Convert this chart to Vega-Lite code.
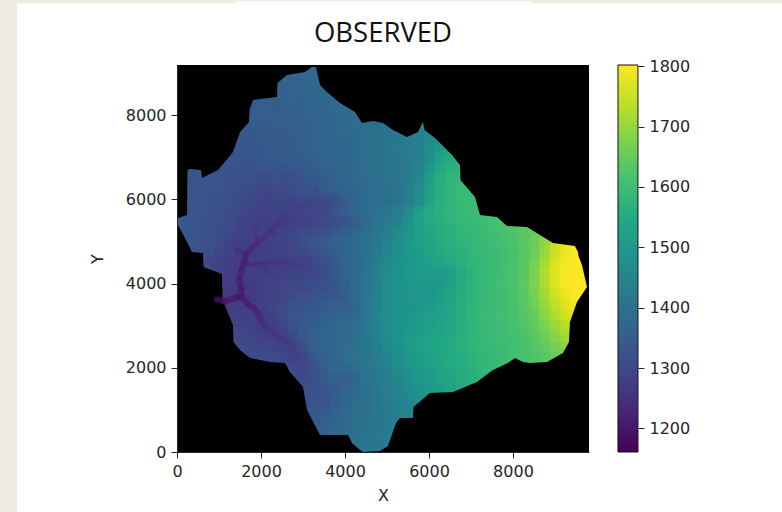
{"$schema":"https://vega.github.io/schema/vega-lite/v6.json","autosize":"none","width":412,"height":387,"padding":{"left":177,"top":65,"right":193,"bottom":60},"background":"#eeebe0","title":{"text":"OBSERVED","font":"Open Sans","fontSize":27.5,"fontWeight":"normal","color":"#111","anchor":"middle","offset":-46},"config":{"view":{"stroke":null},"axis":{"grid":false,"labelFont":"DejaVu Sans","titleFont":"DejaVu Sans","labelFontSize":16,"titleFontSize":16,"titleFontWeight":"normal","labelColor":"#262626","titleColor":"#262626","tickColor":"#262626","domainColor":"#262626","tickSize":6,"labelPadding":5,"format":"d","labelFlush":false}},"resolve":{"scale":{"y":"independent"},"axis":{"x":"independent","y":"independent"}},"datasets":{"cells":[
{"x":3125,"y":9125,"v":1375},
{"x":2625,"y":8875,"v":1365},{"x":2875,"y":8875,"v":1368},{"x":3125,"y":8875,"v":1372},{"x":3375,"y":8875,"v":1378},
{"x":2375,"y":8625,"v":1360},{"x":2625,"y":8625,"v":1362},{"x":2875,"y":8625,"v":1365},{"x":3125,"y":8625,"v":1370},{"x":3375,"y":8625,"v":1375},{"x":3625,"y":8625,"v":1382},
{"x":1875,"y":8375,"v":1345},{"x":2125,"y":8375,"v":1350},{"x":2375,"y":8375,"v":1355},{"x":2625,"y":8375,"v":1358},{"x":2875,"y":8375,"v":1362},{"x":3125,"y":8375,"v":1368},{"x":3375,"y":8375,"v":1372},{"x":3625,"y":8375,"v":1380},{"x":3875,"y":8375,"v":1388},
{"x":1875,"y":8125,"v":1345},{"x":2125,"y":8125,"v":1348},{"x":2375,"y":8125,"v":1352},{"x":2625,"y":8125,"v":1355},{"x":2875,"y":8125,"v":1360},{"x":3125,"y":8125,"v":1365},{"x":3375,"y":8125,"v":1370},{"x":3625,"y":8125,"v":1378},{"x":3875,"y":8125,"v":1385},{"x":4125,"y":8125,"v":1392},
{"x":1625,"y":7875,"v":1340},{"x":1875,"y":7875,"v":1345},{"x":2125,"y":7875,"v":1348},{"x":2375,"y":7875,"v":1350},{"x":2625,"y":7875,"v":1353},{"x":2875,"y":7875,"v":1357},{"x":3125,"y":7875,"v":1362},{"x":3375,"y":7875,"v":1368},{"x":3625,"y":7875,"v":1375},{"x":3875,"y":7875,"v":1382},{"x":4125,"y":7875,"v":1390},{"x":4375,"y":7875,"v":1396},{"x":4625,"y":7875,"v":1402},
{"x":1625,"y":7625,"v":1338},{"x":1875,"y":7625,"v":1342},{"x":2125,"y":7625,"v":1345},{"x":2375,"y":7625,"v":1348},{"x":2625,"y":7625,"v":1350},{"x":2875,"y":7625,"v":1355},{"x":3125,"y":7625,"v":1358},{"x":3375,"y":7625,"v":1365},{"x":3625,"y":7625,"v":1372},{"x":3875,"y":7625,"v":1380},{"x":4125,"y":7625,"v":1388},{"x":4375,"y":7625,"v":1394},{"x":4625,"y":7625,"v":1400},{"x":4875,"y":7625,"v":1408},{"x":5125,"y":7625,"v":1415},{"x":5625,"y":7625,"v":1440},{"x":5875,"y":7625,"v":1450},
{"x":1625,"y":7375,"v":1335},{"x":1875,"y":7375,"v":1338},{"x":2125,"y":7375,"v":1342},{"x":2375,"y":7375,"v":1345},{"x":2625,"y":7375,"v":1348},{"x":2875,"y":7375,"v":1352},{"x":3125,"y":7375,"v":1356},{"x":3375,"y":7375,"v":1362},{"x":3625,"y":7375,"v":1370},{"x":3875,"y":7375,"v":1376},{"x":4125,"y":7375,"v":1384},{"x":4375,"y":7375,"v":1392},{"x":4625,"y":7375,"v":1398},{"x":4875,"y":7375,"v":1408},{"x":5125,"y":7375,"v":1415},{"x":5375,"y":7375,"v":1425},{"x":5625,"y":7375,"v":1435},{"x":5875,"y":7375,"v":1445},{"x":6125,"y":7375,"v":1470},
{"x":1375,"y":7125,"v":1330},{"x":1625,"y":7125,"v":1333},{"x":1875,"y":7125,"v":1336},{"x":2125,"y":7125,"v":1340},{"x":2375,"y":7125,"v":1343},{"x":2625,"y":7125,"v":1346},{"x":2875,"y":7125,"v":1350},{"x":3125,"y":7125,"v":1354},{"x":3375,"y":7125,"v":1360},{"x":3625,"y":7125,"v":1368},{"x":3875,"y":7125,"v":1375},{"x":4125,"y":7125,"v":1382},{"x":4375,"y":7125,"v":1390},{"x":4625,"y":7125,"v":1398},{"x":4875,"y":7125,"v":1405},{"x":5125,"y":7125,"v":1415},{"x":5375,"y":7125,"v":1425},{"x":5625,"y":7125,"v":1435},{"x":5875,"y":7125,"v":1450},{"x":6125,"y":7125,"v":1490},{"x":6375,"y":7125,"v":1525},
{"x":1125,"y":6875,"v":1325},{"x":1375,"y":6875,"v":1328},{"x":1625,"y":6875,"v":1330},{"x":1875,"y":6875,"v":1333},{"x":2125,"y":6875,"v":1336},{"x":2375,"y":6875,"v":1338},{"x":2625,"y":6875,"v":1342},{"x":2875,"y":6875,"v":1346},{"x":3125,"y":6875,"v":1350},{"x":3375,"y":6875,"v":1356},{"x":3625,"y":6875,"v":1364},{"x":3875,"y":6875,"v":1372},{"x":4125,"y":6875,"v":1380},{"x":4375,"y":6875,"v":1388},{"x":4625,"y":6875,"v":1396},{"x":4875,"y":6875,"v":1404},{"x":5125,"y":6875,"v":1412},{"x":5375,"y":6875,"v":1420},{"x":5625,"y":6875,"v":1432},{"x":5875,"y":6875,"v":1445},{"x":6125,"y":6875,"v":1515},{"x":6375,"y":6875,"v":1550},{"x":6625,"y":6875,"v":1565},
{"x":375,"y":6625,"v":1335},{"x":625,"y":6625,"v":1332},{"x":875,"y":6625,"v":1328},{"x":1125,"y":6625,"v":1325},{"x":1375,"y":6625,"v":1322},{"x":1625,"y":6625,"v":1322},{"x":1875,"y":6625,"v":1318},{"x":2125,"y":6625,"v":1322},{"x":2375,"y":6625,"v":1325},{"x":2625,"y":6625,"v":1322},{"x":2875,"y":6625,"v":1335},{"x":3125,"y":6625,"v":1342},{"x":3375,"y":6625,"v":1350},{"x":3625,"y":6625,"v":1360},{"x":3875,"y":6625,"v":1368},{"x":4125,"y":6625,"v":1378},{"x":4375,"y":6625,"v":1386},{"x":4625,"y":6625,"v":1394},{"x":4875,"y":6625,"v":1402},{"x":5125,"y":6625,"v":1412},{"x":5375,"y":6625,"v":1420},{"x":5625,"y":6625,"v":1435},{"x":5875,"y":6625,"v":1465},{"x":6125,"y":6625,"v":1530},{"x":6375,"y":6625,"v":1565},{"x":6625,"y":6625,"v":1580},
{"x":375,"y":6375,"v":1335},{"x":625,"y":6375,"v":1332},{"x":875,"y":6375,"v":1328},{"x":1125,"y":6375,"v":1322},{"x":1375,"y":6375,"v":1318},{"x":1625,"y":6375,"v":1315},{"x":1875,"y":6375,"v":1310},{"x":2125,"y":6375,"v":1305},{"x":2375,"y":6375,"v":1315},{"x":2625,"y":6375,"v":1310},{"x":2875,"y":6375,"v":1325},{"x":3125,"y":6375,"v":1332},{"x":3375,"y":6375,"v":1340},{"x":3625,"y":6375,"v":1350},{"x":3875,"y":6375,"v":1360},{"x":4125,"y":6375,"v":1372},{"x":4375,"y":6375,"v":1382},{"x":4625,"y":6375,"v":1392},{"x":4875,"y":6375,"v":1400},{"x":5125,"y":6375,"v":1410},{"x":5375,"y":6375,"v":1420},{"x":5625,"y":6375,"v":1438},{"x":5875,"y":6375,"v":1480},{"x":6125,"y":6375,"v":1545},{"x":6375,"y":6375,"v":1575},{"x":6625,"y":6375,"v":1590},
{"x":375,"y":6125,"v":1332},{"x":625,"y":6125,"v":1330},{"x":875,"y":6125,"v":1325},{"x":1125,"y":6125,"v":1320},{"x":1375,"y":6125,"v":1315},{"x":1625,"y":6125,"v":1310},{"x":1875,"y":6125,"v":1302},{"x":2125,"y":6125,"v":1290},{"x":2375,"y":6125,"v":1305},{"x":2625,"y":6125,"v":1305},{"x":2875,"y":6125,"v":1318},{"x":3125,"y":6125,"v":1320},{"x":3375,"y":6125,"v":1335},{"x":3625,"y":6125,"v":1345},{"x":3875,"y":6125,"v":1355},{"x":4125,"y":6125,"v":1365},{"x":4375,"y":6125,"v":1378},{"x":4625,"y":6125,"v":1390},{"x":4875,"y":6125,"v":1398},{"x":5125,"y":6125,"v":1408},{"x":5375,"y":6125,"v":1420},{"x":5625,"y":6125,"v":1440},{"x":5875,"y":6125,"v":1490},{"x":6125,"y":6125,"v":1550},{"x":6375,"y":6125,"v":1575},{"x":6625,"y":6125,"v":1590},{"x":6875,"y":6125,"v":1600},
{"x":375,"y":5875,"v":1330},{"x":625,"y":5875,"v":1328},{"x":875,"y":5875,"v":1322},{"x":1125,"y":5875,"v":1318},{"x":1375,"y":5875,"v":1312},{"x":1625,"y":5875,"v":1305},{"x":1875,"y":5875,"v":1295},{"x":2125,"y":5875,"v":1287},{"x":2375,"y":5875,"v":1295},{"x":2625,"y":5875,"v":1290},{"x":2875,"y":5875,"v":1288},{"x":3125,"y":5875,"v":1295},{"x":3375,"y":5875,"v":1292},{"x":3625,"y":5875,"v":1295},{"x":3875,"y":5875,"v":1315},{"x":4125,"y":5875,"v":1355},{"x":4375,"y":5875,"v":1375},{"x":4625,"y":5875,"v":1388},{"x":4875,"y":5875,"v":1398},{"x":5125,"y":5875,"v":1408},{"x":5375,"y":5875,"v":1420},{"x":5625,"y":5875,"v":1445},{"x":5875,"y":5875,"v":1495},{"x":6125,"y":5875,"v":1550},{"x":6375,"y":5875,"v":1572},{"x":6625,"y":5875,"v":1585},{"x":6875,"y":5875,"v":1595},{"x":7125,"y":5875,"v":1600},
{"x":125,"y":5625,"v":1338},{"x":375,"y":5625,"v":1330},{"x":625,"y":5625,"v":1326},{"x":875,"y":5625,"v":1322},{"x":1125,"y":5625,"v":1316},{"x":1375,"y":5625,"v":1308},{"x":1625,"y":5625,"v":1295},{"x":1875,"y":5625,"v":1287},{"x":2125,"y":5625,"v":1285},{"x":2375,"y":5625,"v":1283},{"x":2625,"y":5625,"v":1283},{"x":2875,"y":5625,"v":1290},{"x":3125,"y":5625,"v":1300},{"x":3375,"y":5625,"v":1305},{"x":3625,"y":5625,"v":1315},{"x":3875,"y":5625,"v":1345},{"x":4125,"y":5625,"v":1365},{"x":4375,"y":5625,"v":1382},{"x":4625,"y":5625,"v":1395},{"x":4875,"y":5625,"v":1410},{"x":5125,"y":5625,"v":1425},{"x":5375,"y":5625,"v":1450},{"x":5625,"y":5625,"v":1500},{"x":5875,"y":5625,"v":1545},{"x":6125,"y":5625,"v":1565},{"x":6375,"y":5625,"v":1578},{"x":6625,"y":5625,"v":1590},{"x":6875,"y":5625,"v":1598},{"x":7125,"y":5625,"v":1600},{"x":7375,"y":5625,"v":1602},
{"x":125,"y":5375,"v":1338},{"x":375,"y":5375,"v":1330},{"x":625,"y":5375,"v":1325},{"x":875,"y":5375,"v":1320},{"x":1125,"y":5375,"v":1312},{"x":1375,"y":5375,"v":1303},{"x":1625,"y":5375,"v":1292},{"x":1875,"y":5375,"v":1285},{"x":2125,"y":5375,"v":1281},{"x":2375,"y":5375,"v":1281},{"x":2625,"y":5375,"v":1285},{"x":2875,"y":5375,"v":1287},{"x":3125,"y":5375,"v":1288},{"x":3375,"y":5375,"v":1295},{"x":3625,"y":5375,"v":1300},{"x":3875,"y":5375,"v":1310},{"x":4125,"y":5375,"v":1325},{"x":4375,"y":5375,"v":1365},{"x":4625,"y":5375,"v":1392},{"x":4875,"y":5375,"v":1415},{"x":5125,"y":5375,"v":1435},{"x":5375,"y":5375,"v":1460},{"x":5625,"y":5375,"v":1500},{"x":5875,"y":5375,"v":1535},{"x":6125,"y":5375,"v":1555},{"x":6375,"y":5375,"v":1568},{"x":6625,"y":5375,"v":1580},{"x":6875,"y":5375,"v":1590},{"x":7125,"y":5375,"v":1598},{"x":7375,"y":5375,"v":1605},{"x":7625,"y":5375,"v":1615},{"x":7875,"y":5375,"v":1625},
{"x":125,"y":5125,"v":1338},{"x":375,"y":5125,"v":1330},{"x":625,"y":5125,"v":1322},{"x":875,"y":5125,"v":1315},{"x":1125,"y":5125,"v":1305},{"x":1375,"y":5125,"v":1295},{"x":1625,"y":5125,"v":1287},{"x":1875,"y":5125,"v":1282},{"x":2125,"y":5125,"v":1284},{"x":2375,"y":5125,"v":1286},{"x":2625,"y":5125,"v":1290},{"x":2875,"y":5125,"v":1300},{"x":3125,"y":5125,"v":1312},{"x":3375,"y":5125,"v":1325},{"x":3625,"y":5125,"v":1340},{"x":3875,"y":5125,"v":1355},{"x":4125,"y":5125,"v":1372},{"x":4375,"y":5125,"v":1388},{"x":4625,"y":5125,"v":1402},{"x":4875,"y":5125,"v":1425},{"x":5125,"y":5125,"v":1450},{"x":5375,"y":5125,"v":1478},{"x":5625,"y":5125,"v":1505},{"x":5875,"y":5125,"v":1530},{"x":6125,"y":5125,"v":1550},{"x":6375,"y":5125,"v":1562},{"x":6625,"y":5125,"v":1575},{"x":6875,"y":5125,"v":1585},{"x":7125,"y":5125,"v":1592},{"x":7375,"y":5125,"v":1600},{"x":7625,"y":5125,"v":1608},{"x":7875,"y":5125,"v":1618},{"x":8125,"y":5125,"v":1628},{"x":8375,"y":5125,"v":1642},{"x":8625,"y":5125,"v":1665},
{"x":375,"y":4875,"v":1330},{"x":625,"y":4875,"v":1322},{"x":875,"y":4875,"v":1315},{"x":1125,"y":4875,"v":1300},{"x":1375,"y":4875,"v":1287},{"x":1625,"y":4875,"v":1279},{"x":1875,"y":4875,"v":1276},{"x":2125,"y":4875,"v":1282},{"x":2375,"y":4875,"v":1287},{"x":2625,"y":4875,"v":1295},{"x":2875,"y":4875,"v":1310},{"x":3125,"y":4875,"v":1322},{"x":3375,"y":4875,"v":1338},{"x":3625,"y":4875,"v":1350},{"x":3875,"y":4875,"v":1362},{"x":4125,"y":4875,"v":1378},{"x":4375,"y":4875,"v":1392},{"x":4625,"y":4875,"v":1408},{"x":4875,"y":4875,"v":1435},{"x":5125,"y":4875,"v":1462},{"x":5375,"y":4875,"v":1490},{"x":5625,"y":4875,"v":1510},{"x":5875,"y":4875,"v":1528},{"x":6125,"y":4875,"v":1545},{"x":6375,"y":4875,"v":1558},{"x":6625,"y":4875,"v":1570},{"x":6875,"y":4875,"v":1582},{"x":7125,"y":4875,"v":1590},{"x":7375,"y":4875,"v":1596},{"x":7625,"y":4875,"v":1604},{"x":7875,"y":4875,"v":1612},{"x":8125,"y":4875,"v":1625},{"x":8375,"y":4875,"v":1642},{"x":8625,"y":4875,"v":1672},{"x":8875,"y":4875,"v":1720},{"x":9125,"y":4875,"v":1770},{"x":9375,"y":4875,"v":1795},
{"x":625,"y":4625,"v":1315},{"x":875,"y":4625,"v":1305},{"x":1125,"y":4625,"v":1287},{"x":1375,"y":4625,"v":1278},{"x":1625,"y":4625,"v":1271},{"x":1875,"y":4625,"v":1276},{"x":2125,"y":4625,"v":1280},{"x":2375,"y":4625,"v":1283},{"x":2625,"y":4625,"v":1286},{"x":2875,"y":4625,"v":1288},{"x":3125,"y":4625,"v":1300},{"x":3375,"y":4625,"v":1318},{"x":3625,"y":4625,"v":1340},{"x":3875,"y":4625,"v":1358},{"x":4125,"y":4625,"v":1372},{"x":4375,"y":4625,"v":1392},{"x":4625,"y":4625,"v":1412},{"x":4875,"y":4625,"v":1442},{"x":5125,"y":4625,"v":1472},{"x":5375,"y":4625,"v":1495},{"x":5625,"y":4625,"v":1510},{"x":5875,"y":4625,"v":1522},{"x":6125,"y":4625,"v":1538},{"x":6375,"y":4625,"v":1552},{"x":6625,"y":4625,"v":1565},{"x":6875,"y":4625,"v":1578},{"x":7125,"y":4625,"v":1585},{"x":7375,"y":4625,"v":1592},{"x":7625,"y":4625,"v":1600},{"x":7875,"y":4625,"v":1610},{"x":8125,"y":4625,"v":1622},{"x":8375,"y":4625,"v":1640},{"x":8625,"y":4625,"v":1675},{"x":8875,"y":4625,"v":1730},{"x":9125,"y":4625,"v":1780},{"x":9375,"y":4625,"v":1798},{"x":9625,"y":4625,"v":1800},
{"x":875,"y":4375,"v":1300},{"x":1125,"y":4375,"v":1284},{"x":1375,"y":4375,"v":1274},{"x":1625,"y":4375,"v":1270},{"x":1875,"y":4375,"v":1276},{"x":2125,"y":4375,"v":1278},{"x":2375,"y":4375,"v":1279},{"x":2625,"y":4375,"v":1280},{"x":2875,"y":4375,"v":1283},{"x":3125,"y":4375,"v":1287},{"x":3375,"y":4375,"v":1295},{"x":3625,"y":4375,"v":1315},{"x":3875,"y":4375,"v":1345},{"x":4125,"y":4375,"v":1368},{"x":4375,"y":4375,"v":1392},{"x":4625,"y":4375,"v":1415},{"x":4875,"y":4375,"v":1450},{"x":5125,"y":4375,"v":1478},{"x":5375,"y":4375,"v":1495},{"x":5625,"y":4375,"v":1505},{"x":5875,"y":4375,"v":1512},{"x":6125,"y":4375,"v":1525},{"x":6375,"y":4375,"v":1535},{"x":6625,"y":4375,"v":1552},{"x":6875,"y":4375,"v":1570},{"x":7125,"y":4375,"v":1585},{"x":7375,"y":4375,"v":1595},{"x":7625,"y":4375,"v":1602},{"x":7875,"y":4375,"v":1612},{"x":8125,"y":4375,"v":1625},{"x":8375,"y":4375,"v":1648},{"x":8625,"y":4375,"v":1690},{"x":8875,"y":4375,"v":1745},{"x":9125,"y":4375,"v":1790},{"x":9375,"y":4375,"v":1800},{"x":9625,"y":4375,"v":1802},
{"x":1125,"y":4125,"v":1285},{"x":1375,"y":4125,"v":1276},{"x":1625,"y":4125,"v":1269},{"x":1875,"y":4125,"v":1276},{"x":2125,"y":4125,"v":1283},{"x":2375,"y":4125,"v":1287},{"x":2625,"y":4125,"v":1288},{"x":2875,"y":4125,"v":1295},{"x":3125,"y":4125,"v":1300},{"x":3375,"y":4125,"v":1310},{"x":3625,"y":4125,"v":1325},{"x":3875,"y":4125,"v":1350},{"x":4125,"y":4125,"v":1372},{"x":4375,"y":4125,"v":1395},{"x":4625,"y":4125,"v":1418},{"x":4875,"y":4125,"v":1455},{"x":5125,"y":4125,"v":1480},{"x":5375,"y":4125,"v":1498},{"x":5625,"y":4125,"v":1508},{"x":5875,"y":4125,"v":1512},{"x":6125,"y":4125,"v":1520},{"x":6375,"y":4125,"v":1505},{"x":6625,"y":4125,"v":1530},{"x":6875,"y":4125,"v":1555},{"x":7125,"y":4125,"v":1578},{"x":7375,"y":4125,"v":1592},{"x":7625,"y":4125,"v":1602},{"x":7875,"y":4125,"v":1612},{"x":8125,"y":4125,"v":1625},{"x":8375,"y":4125,"v":1650},{"x":8625,"y":4125,"v":1695},{"x":8875,"y":4125,"v":1750},{"x":9125,"y":4125,"v":1790},{"x":9375,"y":4125,"v":1800},{"x":9625,"y":4125,"v":1802},
{"x":1125,"y":3875,"v":1276},{"x":1375,"y":3875,"v":1270},{"x":1625,"y":3875,"v":1268},{"x":1875,"y":3875,"v":1274},{"x":2125,"y":3875,"v":1284},{"x":2375,"y":3875,"v":1288},{"x":2625,"y":3875,"v":1300},{"x":2875,"y":3875,"v":1300},{"x":3125,"y":3875,"v":1310},{"x":3375,"y":3875,"v":1318},{"x":3625,"y":3875,"v":1325},{"x":3875,"y":3875,"v":1340},{"x":4125,"y":3875,"v":1372},{"x":4375,"y":3875,"v":1398},{"x":4625,"y":3875,"v":1422},{"x":4875,"y":3875,"v":1460},{"x":5125,"y":3875,"v":1485},{"x":5375,"y":3875,"v":1498},{"x":5625,"y":3875,"v":1505},{"x":5875,"y":3875,"v":1505},{"x":6125,"y":3875,"v":1500},{"x":6375,"y":3875,"v":1515},{"x":6625,"y":3875,"v":1540},{"x":6875,"y":3875,"v":1562},{"x":7125,"y":3875,"v":1582},{"x":7375,"y":3875,"v":1595},{"x":7625,"y":3875,"v":1602},{"x":7875,"y":3875,"v":1612},{"x":8125,"y":3875,"v":1625},{"x":8375,"y":3875,"v":1650},{"x":8625,"y":3875,"v":1695},{"x":8875,"y":3875,"v":1745},{"x":9125,"y":3875,"v":1785},{"x":9375,"y":3875,"v":1800},{"x":9625,"y":3875,"v":1802},
{"x":875,"y":3625,"v":1269},{"x":1125,"y":3625,"v":1265},{"x":1375,"y":3625,"v":1266},{"x":1625,"y":3625,"v":1266},{"x":1875,"y":3625,"v":1271},{"x":2125,"y":3625,"v":1284},{"x":2375,"y":3625,"v":1290},{"x":2625,"y":3625,"v":1305},{"x":2875,"y":3625,"v":1315},{"x":3125,"y":3625,"v":1322},{"x":3375,"y":3625,"v":1330},{"x":3625,"y":3625,"v":1340},{"x":3875,"y":3625,"v":1345},{"x":4125,"y":3625,"v":1365},{"x":4375,"y":3625,"v":1398},{"x":4625,"y":3625,"v":1425},{"x":4875,"y":3625,"v":1462},{"x":5125,"y":3625,"v":1485},{"x":5375,"y":3625,"v":1495},{"x":5625,"y":3625,"v":1500},{"x":5875,"y":3625,"v":1495},{"x":6125,"y":3625,"v":1510},{"x":6375,"y":3625,"v":1525},{"x":6625,"y":3625,"v":1548},{"x":6875,"y":3625,"v":1568},{"x":7125,"y":3625,"v":1585},{"x":7375,"y":3625,"v":1596},{"x":7625,"y":3625,"v":1604},{"x":7875,"y":3625,"v":1614},{"x":8125,"y":3625,"v":1625},{"x":8375,"y":3625,"v":1645},{"x":8625,"y":3625,"v":1685},{"x":8875,"y":3625,"v":1730},{"x":9125,"y":3625,"v":1770},{"x":9375,"y":3625,"v":1795},{"x":9625,"y":3625,"v":1800},
{"x":1125,"y":3375,"v":1278},{"x":1375,"y":3375,"v":1281},{"x":1625,"y":3375,"v":1276},{"x":1875,"y":3375,"v":1274},{"x":2125,"y":3375,"v":1282},{"x":2375,"y":3375,"v":1295},{"x":2625,"y":3375,"v":1312},{"x":2875,"y":3375,"v":1325},{"x":3125,"y":3375,"v":1335},{"x":3375,"y":3375,"v":1342},{"x":3625,"y":3375,"v":1352},{"x":3875,"y":3375,"v":1360},{"x":4125,"y":3375,"v":1352},{"x":4375,"y":3375,"v":1395},{"x":4625,"y":3375,"v":1428},{"x":4875,"y":3375,"v":1465},{"x":5125,"y":3375,"v":1485},{"x":5375,"y":3375,"v":1495},{"x":5625,"y":3375,"v":1492},{"x":5875,"y":3375,"v":1505},{"x":6125,"y":3375,"v":1520},{"x":6375,"y":3375,"v":1532},{"x":6625,"y":3375,"v":1552},{"x":6875,"y":3375,"v":1572},{"x":7125,"y":3375,"v":1588},{"x":7375,"y":3375,"v":1596},{"x":7625,"y":3375,"v":1604},{"x":7875,"y":3375,"v":1612},{"x":8125,"y":3375,"v":1622},{"x":8375,"y":3375,"v":1640},{"x":8625,"y":3375,"v":1672},{"x":8875,"y":3375,"v":1715},{"x":9125,"y":3375,"v":1750},{"x":9375,"y":3375,"v":1775},
{"x":1375,"y":3125,"v":1290},{"x":1625,"y":3125,"v":1287},{"x":1875,"y":3125,"v":1278},{"x":2125,"y":3125,"v":1277},{"x":2375,"y":3125,"v":1287},{"x":2625,"y":3125,"v":1312},{"x":2875,"y":3125,"v":1330},{"x":3125,"y":3125,"v":1342},{"x":3375,"y":3125,"v":1352},{"x":3625,"y":3125,"v":1362},{"x":3875,"y":3125,"v":1372},{"x":4125,"y":3125,"v":1382},{"x":4375,"y":3125,"v":1395},{"x":4625,"y":3125,"v":1430},{"x":4875,"y":3125,"v":1462},{"x":5125,"y":3125,"v":1482},{"x":5375,"y":3125,"v":1495},{"x":5625,"y":3125,"v":1505},{"x":5875,"y":3125,"v":1515},{"x":6125,"y":3125,"v":1525},{"x":6375,"y":3125,"v":1535},{"x":6625,"y":3125,"v":1550},{"x":6875,"y":3125,"v":1570},{"x":7125,"y":3125,"v":1585},{"x":7375,"y":3125,"v":1595},{"x":7625,"y":3125,"v":1602},{"x":7875,"y":3125,"v":1610},{"x":8125,"y":3125,"v":1620},{"x":8375,"y":3125,"v":1635},{"x":8625,"y":3125,"v":1660},{"x":8875,"y":3125,"v":1700},{"x":9125,"y":3125,"v":1735},{"x":9375,"y":3125,"v":1760},
{"x":1375,"y":2875,"v":1300},{"x":1625,"y":2875,"v":1300},{"x":1875,"y":2875,"v":1288},{"x":2125,"y":2875,"v":1280},{"x":2375,"y":2875,"v":1280},{"x":2625,"y":2875,"v":1295},{"x":2875,"y":2875,"v":1330},{"x":3125,"y":2875,"v":1350},{"x":3375,"y":2875,"v":1358},{"x":3625,"y":2875,"v":1368},{"x":3875,"y":2875,"v":1378},{"x":4125,"y":2875,"v":1388},{"x":4375,"y":2875,"v":1400},{"x":4625,"y":2875,"v":1430},{"x":4875,"y":2875,"v":1458},{"x":5125,"y":2875,"v":1478},{"x":5375,"y":2875,"v":1495},{"x":5625,"y":2875,"v":1510},{"x":5875,"y":2875,"v":1520},{"x":6125,"y":2875,"v":1528},{"x":6375,"y":2875,"v":1538},{"x":6625,"y":2875,"v":1552},{"x":6875,"y":2875,"v":1570},{"x":7125,"y":2875,"v":1585},{"x":7375,"y":2875,"v":1595},{"x":7625,"y":2875,"v":1600},{"x":7875,"y":2875,"v":1608},{"x":8125,"y":2875,"v":1618},{"x":8375,"y":2875,"v":1632},{"x":8625,"y":2875,"v":1652},{"x":8875,"y":2875,"v":1685},{"x":9125,"y":2875,"v":1715},{"x":9375,"y":2875,"v":1740},
{"x":1375,"y":2625,"v":1305},{"x":1625,"y":2625,"v":1305},{"x":1875,"y":2625,"v":1300},{"x":2125,"y":2625,"v":1288},{"x":2375,"y":2625,"v":1284},{"x":2625,"y":2625,"v":1283},{"x":2875,"y":2625,"v":1305},{"x":3125,"y":2625,"v":1345},{"x":3375,"y":2625,"v":1362},{"x":3625,"y":2625,"v":1372},{"x":3875,"y":2625,"v":1382},{"x":4125,"y":2625,"v":1392},{"x":4375,"y":2625,"v":1405},{"x":4625,"y":2625,"v":1425},{"x":4875,"y":2625,"v":1452},{"x":5125,"y":2625,"v":1475},{"x":5375,"y":2625,"v":1498},{"x":5625,"y":2625,"v":1515},{"x":5875,"y":2625,"v":1528},{"x":6125,"y":2625,"v":1535},{"x":6375,"y":2625,"v":1545},{"x":6625,"y":2625,"v":1558},{"x":6875,"y":2625,"v":1572},{"x":7125,"y":2625,"v":1585},{"x":7375,"y":2625,"v":1592},{"x":7625,"y":2625,"v":1598},{"x":7875,"y":2625,"v":1606},{"x":8125,"y":2625,"v":1614},{"x":8375,"y":2625,"v":1626},{"x":8625,"y":2625,"v":1642},{"x":8875,"y":2625,"v":1665},{"x":9125,"y":2625,"v":1692},{"x":9375,"y":2625,"v":1715},
{"x":1625,"y":2375,"v":1310},{"x":1875,"y":2375,"v":1310},{"x":2125,"y":2375,"v":1305},{"x":2375,"y":2375,"v":1295},{"x":2625,"y":2375,"v":1288},{"x":2875,"y":2375,"v":1287},{"x":3125,"y":2375,"v":1320},{"x":3375,"y":2375,"v":1358},{"x":3625,"y":2375,"v":1372},{"x":3875,"y":2375,"v":1385},{"x":4125,"y":2375,"v":1398},{"x":4375,"y":2375,"v":1410},{"x":4625,"y":2375,"v":1422},{"x":4875,"y":2375,"v":1445},{"x":5125,"y":2375,"v":1470},{"x":5375,"y":2375,"v":1495},{"x":5625,"y":2375,"v":1512},{"x":5875,"y":2375,"v":1528},{"x":6125,"y":2375,"v":1538},{"x":6375,"y":2375,"v":1548},{"x":6625,"y":2375,"v":1558},{"x":6875,"y":2375,"v":1570},{"x":7125,"y":2375,"v":1580},{"x":7375,"y":2375,"v":1590},{"x":7625,"y":2375,"v":1596},{"x":7875,"y":2375,"v":1604},{"x":8125,"y":2375,"v":1612},{"x":8375,"y":2375,"v":1622},{"x":8625,"y":2375,"v":1635},{"x":8875,"y":2375,"v":1650},{"x":9125,"y":2375,"v":1668},
{"x":2125,"y":2125,"v":1312},{"x":2375,"y":2125,"v":1310},{"x":2625,"y":2125,"v":1305},{"x":2875,"y":2125,"v":1292},{"x":3125,"y":2125,"v":1305},{"x":3375,"y":2125,"v":1345},{"x":3625,"y":2125,"v":1365},{"x":3875,"y":2125,"v":1382},{"x":4125,"y":2125,"v":1398},{"x":4375,"y":2125,"v":1410},{"x":4625,"y":2125,"v":1420},{"x":4875,"y":2125,"v":1435},{"x":5125,"y":2125,"v":1462},{"x":5375,"y":2125,"v":1488},{"x":5625,"y":2125,"v":1508},{"x":5875,"y":2125,"v":1522},{"x":6125,"y":2125,"v":1532},{"x":6375,"y":2125,"v":1545},{"x":6625,"y":2125,"v":1555},{"x":6875,"y":2125,"v":1565},{"x":7125,"y":2125,"v":1578},{"x":7375,"y":2125,"v":1588},{"x":7625,"y":2125,"v":1595},{"x":7875,"y":2125,"v":1602},{"x":8125,"y":2125,"v":1610},{"x":8375,"y":2125,"v":1618},{"x":8625,"y":2125,"v":1628},{"x":8875,"y":2125,"v":1640},
{"x":2625,"y":1875,"v":1322},{"x":2875,"y":1875,"v":1305},{"x":3125,"y":1875,"v":1302},{"x":3375,"y":1875,"v":1335},{"x":3625,"y":1875,"v":1360},{"x":3875,"y":1875,"v":1378},{"x":4125,"y":1875,"v":1360},{"x":4375,"y":1875,"v":1402},{"x":4625,"y":1875,"v":1415},{"x":4875,"y":1875,"v":1428},{"x":5125,"y":1875,"v":1452},{"x":5375,"y":1875,"v":1478},{"x":5625,"y":1875,"v":1498},{"x":5875,"y":1875,"v":1512},{"x":6125,"y":1875,"v":1525},{"x":6375,"y":1875,"v":1538},{"x":6625,"y":1875,"v":1550},{"x":6875,"y":1875,"v":1562},{"x":7125,"y":1875,"v":1575},{"x":7375,"y":1875,"v":1585},
{"x":3125,"y":1625,"v":1308},{"x":3375,"y":1625,"v":1330},{"x":3625,"y":1625,"v":1352},{"x":3875,"y":1625,"v":1345},{"x":4125,"y":1625,"v":1350},{"x":4375,"y":1625,"v":1395},{"x":4625,"y":1625,"v":1410},{"x":4875,"y":1625,"v":1425},{"x":5125,"y":1625,"v":1445},{"x":5375,"y":1625,"v":1465},{"x":5625,"y":1625,"v":1488},{"x":5875,"y":1625,"v":1505},{"x":6125,"y":1625,"v":1518},{"x":6375,"y":1625,"v":1530},{"x":6625,"y":1625,"v":1542},{"x":6875,"y":1625,"v":1555},{"x":7125,"y":1625,"v":1568},
{"x":3125,"y":1375,"v":1318},{"x":3375,"y":1375,"v":1325},{"x":3625,"y":1375,"v":1330},{"x":3875,"y":1375,"v":1350},{"x":4125,"y":1375,"v":1378},{"x":4375,"y":1375,"v":1392},{"x":4625,"y":1375,"v":1405},{"x":4875,"y":1375,"v":1420},{"x":5125,"y":1375,"v":1438},{"x":5375,"y":1375,"v":1455},{"x":5625,"y":1375,"v":1475},{"x":5875,"y":1375,"v":1495},{"x":6125,"y":1375,"v":1510},{"x":6375,"y":1375,"v":1522},{"x":6625,"y":1375,"v":1535},
{"x":3125,"y":1125,"v":1325},{"x":3375,"y":1125,"v":1332},{"x":3625,"y":1125,"v":1335},{"x":3875,"y":1125,"v":1362},{"x":4125,"y":1125,"v":1382},{"x":4375,"y":1125,"v":1395},{"x":4625,"y":1125,"v":1405},{"x":4875,"y":1125,"v":1418},{"x":5125,"y":1125,"v":1432},{"x":5375,"y":1125,"v":1448},{"x":5625,"y":1125,"v":1465},{"x":5875,"y":1125,"v":1480},
{"x":3125,"y":875,"v":1332},{"x":3375,"y":875,"v":1342},{"x":3625,"y":875,"v":1350},{"x":3875,"y":875,"v":1368},{"x":4125,"y":875,"v":1385},{"x":4375,"y":875,"v":1398},{"x":4625,"y":875,"v":1408},{"x":4875,"y":875,"v":1418},{"x":5125,"y":875,"v":1430},{"x":5375,"y":875,"v":1445},{"x":5625,"y":875,"v":1458},
{"x":3375,"y":625,"v":1352},{"x":3625,"y":625,"v":1362},{"x":3875,"y":625,"v":1375},{"x":4125,"y":625,"v":1388},{"x":4375,"y":625,"v":1400},{"x":4625,"y":625,"v":1410},{"x":4875,"y":625,"v":1420},{"x":5125,"y":625,"v":1432},
{"x":3875,"y":375,"v":1378},{"x":4125,"y":375,"v":1390},{"x":4375,"y":375,"v":1402},{"x":4625,"y":375,"v":1412},{"x":4875,"y":375,"v":1422},{"x":5125,"y":375,"v":1432},
{"x":4375,"y":125,"v":1402},{"x":4625,"y":125,"v":1412},{"x":4875,"y":125,"v":1420}
]},"layer":[
{"data":{"values":[{"a":-3810,"b":14405,"c":-1437,"d":10653},{"a":1381,"b":8452,"c":10653,"d":10700}]},"mark":{"type":"rect","color":"#ffffff","clip":false},"encoding":{"x":{"field":"a","type":"quantitative","title":"X","scale":{"domain":[0,9810],"nice":false,"zero":false},"axis":{"values":[0,2000,4000,6000,8000],"titlePadding":8,"zindex":1}},"x2":{"field":"b"},"y":{"field":"c","type":"quantitative","scale":{"domain":[0,9190],"nice":false,"zero":false},"axis":null},"y2":{"field":"d"}}},
{"data":{"values":[{"a":0,"b":9810,"c":0,"d":9190}]},"mark":{"type":"rect","color":"#000000"},"encoding":{"x":{"field":"a","type":"quantitative","scale":{"domain":[0,9810],"nice":false,"zero":false},"axis":null},"x2":{"field":"b"},"y":{"field":"c","type":"quantitative","title":"Y","scale":{"domain":[0,9190],"nice":false,"zero":false},"axis":{"values":[0,2000,4000,6000,8000],"titlePadding":20,"zindex":1}},"y2":{"field":"d"}}},
{"data":{"values":[{"a":10500,"b":10976,"lo":1161,"hi":1802}]},"mark":{"type":"rect","stroke":"#111","strokeWidth":1,"clip":false,"color":{"gradient":"linear","x1":0,"y1":1,"x2":0,"y2":0,"stops":[{"offset":0,"color":"#440154"},{"offset":0.1,"color":"#482475"},{"offset":0.2,"color":"#414487"},{"offset":0.3,"color":"#355f8d"},{"offset":0.4,"color":"#2a788e"},{"offset":0.5,"color":"#21918c"},{"offset":0.6,"color":"#22a884"},{"offset":0.7,"color":"#44bf70"},{"offset":0.8,"color":"#7ad151"},{"offset":0.9,"color":"#bddf26"},{"offset":1,"color":"#fde725"}]}},"encoding":{"x":{"field":"a","type":"quantitative","scale":{"domain":[0,9810],"nice":false,"zero":false},"axis":null},"x2":{"field":"b"},"y":{"field":"lo","type":"quantitative","title":null,"scale":{"domain":[1161,1802],"nice":false,"zero":false},"axis":{"orient":"right","offset":49,"values":[1200,1300,1400,1500,1600,1700,1800],"domain":false,"zindex":1}},"y2":{"field":"hi"}}},
{"data":{"name":"cells"},"mark":{"type":"rect","width":24,"height":24,"clip":true},"encoding":{"x":{"field":"x","type":"quantitative","scale":{"domain":[0,9810],"nice":false,"zero":false},"axis":null},"y":{"field":"y","type":"quantitative","scale":{"domain":[0,9190],"nice":false,"zero":false},"axis":null},"color":{"field":"v","type":"quantitative","scale":{"scheme":"viridis","domain":[1161,1802]},"legend":null}}},
{"data":{"name":"cells"},"mark":{"type":"rect","width":11,"height":11,"clip":true},"encoding":{"x":{"field":"x","type":"quantitative","scale":{"domain":[0,9810],"nice":false,"zero":false},"axis":null},"y":{"field":"y","type":"quantitative","scale":{"domain":[0,9190],"nice":false,"zero":false},"axis":null},"color":{"field":"v","type":"quantitative","scale":{"scheme":"viridis","domain":[1161,1802]},"legend":null}}},
{"data":{"name":"cells"},"mark":{"type":"rect","width":20,"height":20,"opacity":0.35,"clip":true},"encoding":{"x":{"field":"x","type":"quantitative","scale":{"domain":[0,9810],"nice":false,"zero":false},"axis":null},"y":{"field":"y","type":"quantitative","scale":{"domain":[0,9190],"nice":false,"zero":false},"axis":null},"color":{"field":"v","type":"quantitative","scale":{"scheme":"viridis","domain":[1161,1802]},"legend":null}}},
{"data":{"values":[{"x":0,"y":5558},{"x":24,"y":5558},{"x":238,"y":5630},{"x":250,"y":6698},{"x":310,"y":6722},{"x":571,"y":6698},{"x":595,"y":6508},{"x":976,"y":6698},{"x":1333,"y":7126},{"x":1500,"y":7600},{"x":1714,"y":7838},{"x":1726,"y":8123},{"x":1810,"y":8361},{"x":2381,"y":8432},{"x":2393,"y":8765},{"x":2619,"y":8955},{"x":3048,"y":9026},{"x":3214,"y":9145},{"x":3310,"y":9145},{"x":3405,"y":8717},{"x":3571,"y":8551},{"x":3881,"y":8290},{"x":4238,"y":8076},{"x":4405,"y":7815},{"x":4667,"y":7862},{"x":4905,"y":7815},{"x":5143,"y":7648},{"x":5476,"y":7482},{"x":5738,"y":7601},{"x":5857,"y":7838},{"x":5893,"y":7648},{"x":6143,"y":7458},{"x":6548,"y":7055},{"x":6738,"y":6817},{"x":6750,"y":6461},{"x":7095,"y":6057},{"x":7214,"y":5629},{"x":7619,"y":5582},{"x":7857,"y":5368},{"x":8333,"y":5344},{"x":8643,"y":5154},{"x":8952,"y":4964},{"x":9476,"y":4893},{"x":9548,"y":4751},{"x":9560,"y":4655},{"x":9643,"y":4442},{"x":9762,"y":3919},{"x":9810,"y":3919}]},"mark":{"type":"area","color":"#000000","interpolate":"linear","clip":true},"encoding":{"x":{"field":"x","type":"quantitative","scale":{"domain":[0,9810],"nice":false,"zero":false},"axis":null},"y":{"field":"y","type":"quantitative","stack":null,"scale":{"domain":[0,9190],"nice":false,"zero":false},"axis":null},"y2":{"datum":9190}}},
{"data":{"values":[{"x":0,"y":5392},{"x":24,"y":5392},{"x":238,"y":4988},{"x":357,"y":4751},{"x":619,"y":4727},{"x":631,"y":4394},{"x":1071,"y":4228},{"x":1083,"y":3610},{"x":1333,"y":3017},{"x":1345,"y":2613},{"x":1500,"y":2423},{"x":1738,"y":2233},{"x":2214,"y":2138},{"x":2571,"y":2114},{"x":2690,"y":1900},{"x":3000,"y":1544},{"x":3095,"y":998},{"x":3405,"y":404},{"x":4071,"y":404},{"x":4167,"y":214},{"x":4357,"y":48},{"x":4429,"y":0},{"x":4833,"y":24},{"x":5024,"y":143},{"x":5214,"y":689},{"x":5310,"y":808},{"x":5619,"y":808},{"x":5631,"y":1069},{"x":6024,"y":1401},{"x":6571,"y":1425},{"x":7143,"y":1663},{"x":7524,"y":1948},{"x":7881,"y":2114},{"x":8048,"y":2233},{"x":8238,"y":2138},{"x":8405,"y":2114},{"x":8810,"y":2138},{"x":9190,"y":2352},{"x":9333,"y":2613},{"x":9357,"y":3088},{"x":9524,"y":3563},{"x":9762,"y":3919},{"x":9810,"y":3919}]},"mark":{"type":"area","color":"#000000","interpolate":"linear","clip":true},"encoding":{"x":{"field":"x","type":"quantitative","scale":{"domain":[0,9810],"nice":false,"zero":false},"axis":null},"y":{"field":"y","type":"quantitative","stack":null,"scale":{"domain":[0,9190],"nice":false,"zero":false},"axis":null},"y2":{"datum":0}}},
{"data":{"values":[
{"x":1260,"y":4975,"a":1420,"b":4800,"v":1276},{"x":1420,"y":4800,"a":1650,"b":4700,"v":1240},{"x":1930,"y":4975,"a":1880,"b":5150,"v":1248},{"x":1880,"y":5150,"a":1900,"b":5400,"v":1262},{"x":1900,"y":5400,"a":1930,"b":5700,"v":1274},{"x":1930,"y":5700,"a":1930,"b":6020,"v":1286},{"x":1930,"y":6020,"a":1880,"b":6250,"v":1298},{"x":1880,"y":6250,"a":1850,"b":6400,"v":1310},{"x":1850,"y":6400,"a":1850,"b":6650,"v":1320},
{"x":2380,"y":5380,"a":2700,"b":5500,"v":1265},{"x":2700,"y":5500,"a":2950,"b":5450,"v":1276},{"x":2950,"y":5450,"a":3200,"b":5450,"v":1285},{"x":3200,"y":5450,"a":3500,"b":5500,"v":1296},{"x":3500,"y":5500,"a":3800,"b":5480,"v":1310},{"x":3800,"y":5480,"a":4120,"b":5450,"v":1326},
{"x":2570,"y":5690,"a":2800,"b":5780,"v":1276},{"x":2800,"y":5780,"a":3000,"b":5850,"v":1285},{"x":3000,"y":5850,"a":3150,"b":6050,"v":1293},{"x":3150,"y":6050,"a":3330,"b":6260,"v":1304},{"x":3000,"y":5850,"a":3300,"b":5880,"v":1292},{"x":3300,"y":5880,"a":3640,"b":5900,"v":1300},{"x":3640,"y":5900,"a":3710,"b":6140,"v":1312},
{"x":1600,"y":4500,"a":1750,"b":4450,"v":1220},{"x":1750,"y":4450,"a":2050,"b":4500,"v":1232},{"x":2050,"y":4500,"a":2300,"b":4480,"v":1242},{"x":2300,"y":4480,"a":2600,"b":4500,"v":1250},{"x":2600,"y":4500,"a":3000,"b":4380,"v":1265},{"x":3000,"y":4380,"a":3300,"b":4250,"v":1285},{"x":3300,"y":4250,"a":3500,"b":4050,"v":1304},{"x":3500,"y":4050,"a":3710,"b":3880,"v":1318},{"x":3710,"y":3880,"a":3950,"b":3650,"v":1332},{"x":3950,"y":3650,"a":4120,"b":3480,"v":1345},
{"x":2050,"y":4500,"a":2200,"b":4200,"v":1255},{"x":2200,"y":4200,"a":2600,"b":4150,"v":1278},{"x":2600,"y":4150,"a":3170,"b":3790,"v":1298},
{"x":3570,"y":1340,"a":3800,"b":1550,"v":1335},{"x":3800,"y":1550,"a":4120,"b":1770,"v":1345},{"x":3570,"y":1340,"a":3600,"b":1100,"v":1332}
]},"mark":{"type":"rule","strokeWidth":4,"strokeCap":"round","opacity":0.7,"clip":true},"encoding":{"x":{"field":"x","type":"quantitative","scale":{"domain":[0,9810],"nice":false,"zero":false},"axis":null},"x2":{"field":"a"},"y":{"field":"y","type":"quantitative","scale":{"domain":[0,9190],"nice":false,"zero":false},"axis":null},"y2":{"field":"b"},"color":{"field":"v","type":"quantitative","scale":{"scheme":"viridis","domain":[1161,1802]},"legend":null}}},
{"data":{"values":[
{"x":950,"y":3620,"a":1150,"b":3580,"v":1192},{"x":1150,"y":3580,"a":1450,"b":3680,"v":1195},{"x":1450,"y":3680,"a":1550,"b":3670,"v":1198},{"x":1550,"y":3670,"a":1520,"b":3900,"v":1202},{"x":1520,"y":3900,"a":1480,"b":4100,"v":1204},{"x":1480,"y":4100,"a":1530,"b":4300,"v":1208},{"x":1530,"y":4300,"a":1600,"b":4500,"v":1212},{"x":1600,"y":4500,"a":1650,"b":4700,"v":1216},{"x":1650,"y":4700,"a":1780,"b":4850,"v":1224},{"x":1780,"y":4850,"a":1930,"b":4975,"v":1234},{"x":1930,"y":4975,"a":2080,"b":5100,"v":1242},{"x":2080,"y":5100,"a":2230,"b":5230,"v":1249},{"x":2230,"y":5230,"a":2380,"b":5380,"v":1255},{"x":2380,"y":5380,"a":2480,"b":5530,"v":1261},{"x":2480,"y":5530,"a":2570,"b":5690,"v":1268},
{"x":1550,"y":3670,"a":1700,"b":3500,"v":1205},{"x":1700,"y":3500,"a":1850,"b":3400,"v":1212},{"x":1850,"y":3400,"a":1930,"b":3310,"v":1222},{"x":1930,"y":3310,"a":1990,"b":3150,"v":1230},{"x":1990,"y":3150,"a":2060,"b":3020,"v":1239},{"x":2060,"y":3020,"a":2140,"b":2930,"v":1246},{"x":2140,"y":2930,"a":2300,"b":2830,"v":1253},{"x":2300,"y":2830,"a":2470,"b":2700,"v":1258},{"x":2470,"y":2700,"a":2640,"b":2600,"v":1263},{"x":2640,"y":2600,"a":2740,"b":2450,"v":1270},{"x":2740,"y":2450,"a":2880,"b":2220,"v":1282},{"x":2880,"y":2220,"a":2950,"b":2000,"v":1292},{"x":2950,"y":2000,"a":3020,"b":1820,"v":1300},{"x":3020,"y":1820,"a":3100,"b":1650,"v":1307},{"x":3100,"y":1650,"a":3300,"b":1480,"v":1316},{"x":3300,"y":1480,"a":3570,"b":1340,"v":1326}
]},"mark":{"type":"rule","strokeWidth":6,"strokeCap":"round","opacity":0.7,"clip":true},"encoding":{"x":{"field":"x","type":"quantitative","scale":{"domain":[0,9810],"nice":false,"zero":false},"axis":null},"x2":{"field":"a"},"y":{"field":"y","type":"quantitative","scale":{"domain":[0,9190],"nice":false,"zero":false},"axis":null},"y2":{"field":"b"},"color":{"field":"v","type":"quantitative","scale":{"scheme":"viridis","domain":[1161,1802]},"legend":null}}}
]}
